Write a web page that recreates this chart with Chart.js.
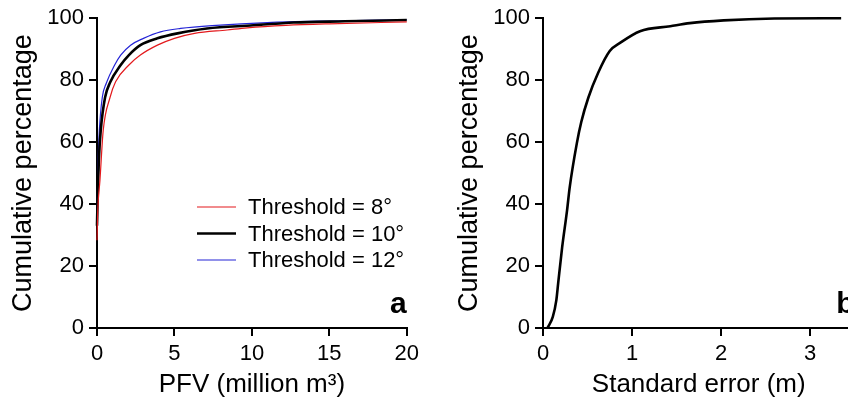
<!DOCTYPE html>
<html lang="en">
<head>
<meta charset="UTF-8">
<title>Cumulative percentage</title>
<style>
  html, body { margin: 0; padding: 0; background: #fff; width: 848px; height: 400px; overflow: hidden; position: relative; }
  .panel { position: absolute; top: 0; height: 400px; }
  #panel-a { left: 0; width: 424px; }
  #panel-b { left: 424px; width: 450px; }
</style>
<script src="https://cdn.jsdelivr.net/npm/chart.js"></script>
</head>
<body>
<div class="panel" id="panel-a"><canvas id="chart-a" width="424" height="400"></canvas></div>
<div class="panel" id="panel-b"><canvas id="chart-b" width="450" height="400"></canvas></div>
<script>
// panel a: cumulative percentage vs PFV (million m3), three thresholds
const labelsA = ['Threshold = 8°', 'Threshold = 10°', 'Threshold = 12°'];
const pfv8  = [0, 0.05, 0.19, 0.4, 0.84, 1.2, 2.06, 2.8, 3.9, 5.0, 6.3, 8.4, 9.7, 12.2, 15, 20];
const cum8  = [28.3, 38, 47.6, 63.7, 74.4, 79.5, 84.9, 88.1, 91.3, 93.5, 95.1, 96.2, 96.9, 97.7, 98.2, 98.8];
const pfv10 = [0, 0.05, 0.12, 0.24, 0.52, 0.85, 1.53, 2.06, 2.8, 3.9, 5.2, 7.1, 10.1, 12.7, 16, 20];
const cum10 = [33, 44, 54, 63.7, 74.4, 79.3, 84.9, 88.1, 91.3, 93.5, 95.1, 96.7, 97.7, 98.6, 99.0, 99.4];
const pfv12 = [0, 0.04, 0.08, 0.15, 0.34, 0.6, 1.14, 1.53, 2.17, 3.0, 4.1, 5.4, 7.7, 11, 15, 20];
const cum12 = [36, 46, 55, 63.7, 74.4, 79.0, 84.9, 88.1, 91.3, 93.5, 95.6, 96.7, 97.7, 98.6, 99.1, 99.5];

// panel b: cumulative percentage vs standard error (m)
const stdErr = [0.05, 0.11, 0.15, 0.17, 0.215, 0.27, 0.30, 0.38, 0.43, 0.51, 0.62, 0.75, 0.87, 1.09, 1.43, 1.65, 2.03, 2.6, 3.35];
const cumErr = [0, 3.6, 9, 14.3, 26, 37.9, 45.4, 59.6, 66.5, 74.4, 82.4, 89.4, 92.1, 95.8, 97.4, 98.4, 99.3, 99.9, 100];

const yTicks = [0, 20, 40, 60, 80, 100];
const xTicksA = [0, 5, 10, 15, 20];
const xTicksB = [0, 1, 2, 3];

function pts(xs, ys) { return xs.map((x, i) => ({x: x, y: ys[i]})); }

const FONT = 'Arial, "Liberation Sans", sans-serif';

// legend drawn inside the plot area, like the original
const insideLegend = {
  id: 'insideLegend',
  afterDraw(chart, args, opts) {
    if (!opts.show) return;
    const ctx = chart.ctx;
    ctx.save();
    ctx.font = '22px ' + FONT;
    ctx.textBaseline = 'middle';
    ctx.fillStyle = '#000';
    chart.data.datasets.forEach((ds, i) => {
      const y = opts.y + i * opts.row;
      ctx.strokeStyle = ds.borderColor;
      ctx.lineWidth = ds.borderWidth;
      ctx.beginPath();
      ctx.moveTo(opts.x, y);
      ctx.lineTo(opts.x + opts.len, y);
      ctx.stroke();
      ctx.fillText(ds.label, opts.x + opts.len + 12, y + 1);
    });
    ctx.restore();
  }
};

// bold panel letter in the bottom right corner of the plot
const panelLetter = {
  id: 'panelLetter',
  afterDraw(chart, args, opts) {
    const ctx = chart.ctx, a = chart.chartArea;
    ctx.save();
    ctx.font = 'bold 30px ' + FONT;
    ctx.textAlign = 'right';
    ctx.textBaseline = 'alphabetic';
    ctx.fillStyle = '#000';
    ctx.fillText(opts.text, a.right, a.bottom - 15);
    ctx.restore();
  }
};

function axis(min, max, ticks, title, extra) {
  return Object.assign({
    type: 'linear',
    min: min, max: max,
    afterBuildTicks: s => { s.ticks = ticks.map(v => ({value: v})); },
    grid: { display: true, drawOnChartArea: false, drawTicks: true, tickLength: 8, tickWidth: 2, tickColor: '#000', color: '#000', lineWidth: 2 },
    border: { display: true, color: '#000', width: 2 },
    ticks: { color: '#000', font: { family: FONT, size: 22 }, padding: 5 },
    title: { display: true, text: title, color: '#000', font: { family: FONT, size: 26 }, padding: 0 }
  }, extra);
}

function baseOptions(xAxis, yAxis, pad, letter, legend) {
  return {
    responsive: false,
    animation: false,
    layout: { padding: pad },
    plugins: {
      legend: { display: false },
      tooltip: { enabled: false },
      insideLegend: legend,
      panelLetter: { text: letter }
    },
    elements: { point: { radius: 0 }, line: { cubicInterpolationMode: 'monotone' } },
    scales: { x: xAxis, y: yAxis }
  };
}

new Chart(document.getElementById('chart-a'), {
  type: 'line',
  data: {
    datasets: [
      { label: labelsA[0], data: pts(pfv8, cum8), borderColor: '#e3191c', borderWidth: 1.2, clip: false },
      { label: labelsA[1], data: pts(pfv10, cum10), borderColor: '#000000', borderWidth: 2.6, clip: false },
      { label: labelsA[2], data: pts(pfv12, cum12), borderColor: '#2424d6', borderWidth: 1.2, clip: false }
    ]
  },
  options: baseOptions(
    axis(0, 20, xTicksA, 'PFV (million m³)', { afterFit: s => { s.height = 72; } }),
    axis(0, 100, yTicks, 'Cumulative percentage', {
      afterFit: s => { s.width = 97; },
      title: { display: true, text: 'Cumulative percentage', color: '#000', font: { family: FONT, size: 27 }, padding: { top: 7, bottom: 0 } }
    }),
    { left: 0, top: 17, right: 17, bottom: 0 },
    'a',
    { show: true, x: 197, y: 207, row: 26.5, len: 39 }
  ),
  plugins: [insideLegend, panelLetter]
});

new Chart(document.getElementById('chart-b'), {
  type: 'line',
  data: {
    datasets: [
      { label: 'Standard error', data: pts(stdErr, cumErr), borderColor: '#000000', borderWidth: 2.6, clip: false }
    ]
  },
  options: baseOptions(
    axis(0, 3.5, xTicksB, 'Standard error (m)', { afterFit: s => { s.height = 72; } }),
    axis(0, 100, yTicks, 'Cumulative percentage', {
      afterFit: s => { s.width = 119; },
      title: { display: true, text: 'Cumulative percentage', color: '#000', font: { family: FONT, size: 27 }, padding: { top: 29, bottom: 0 } }
    }),
    { left: 0, top: 17, right: 19.5, bottom: 0 },
    'b',
    { show: false }
  ),
  plugins: [insideLegend, panelLetter]
});
</script>
</body>
</html>
